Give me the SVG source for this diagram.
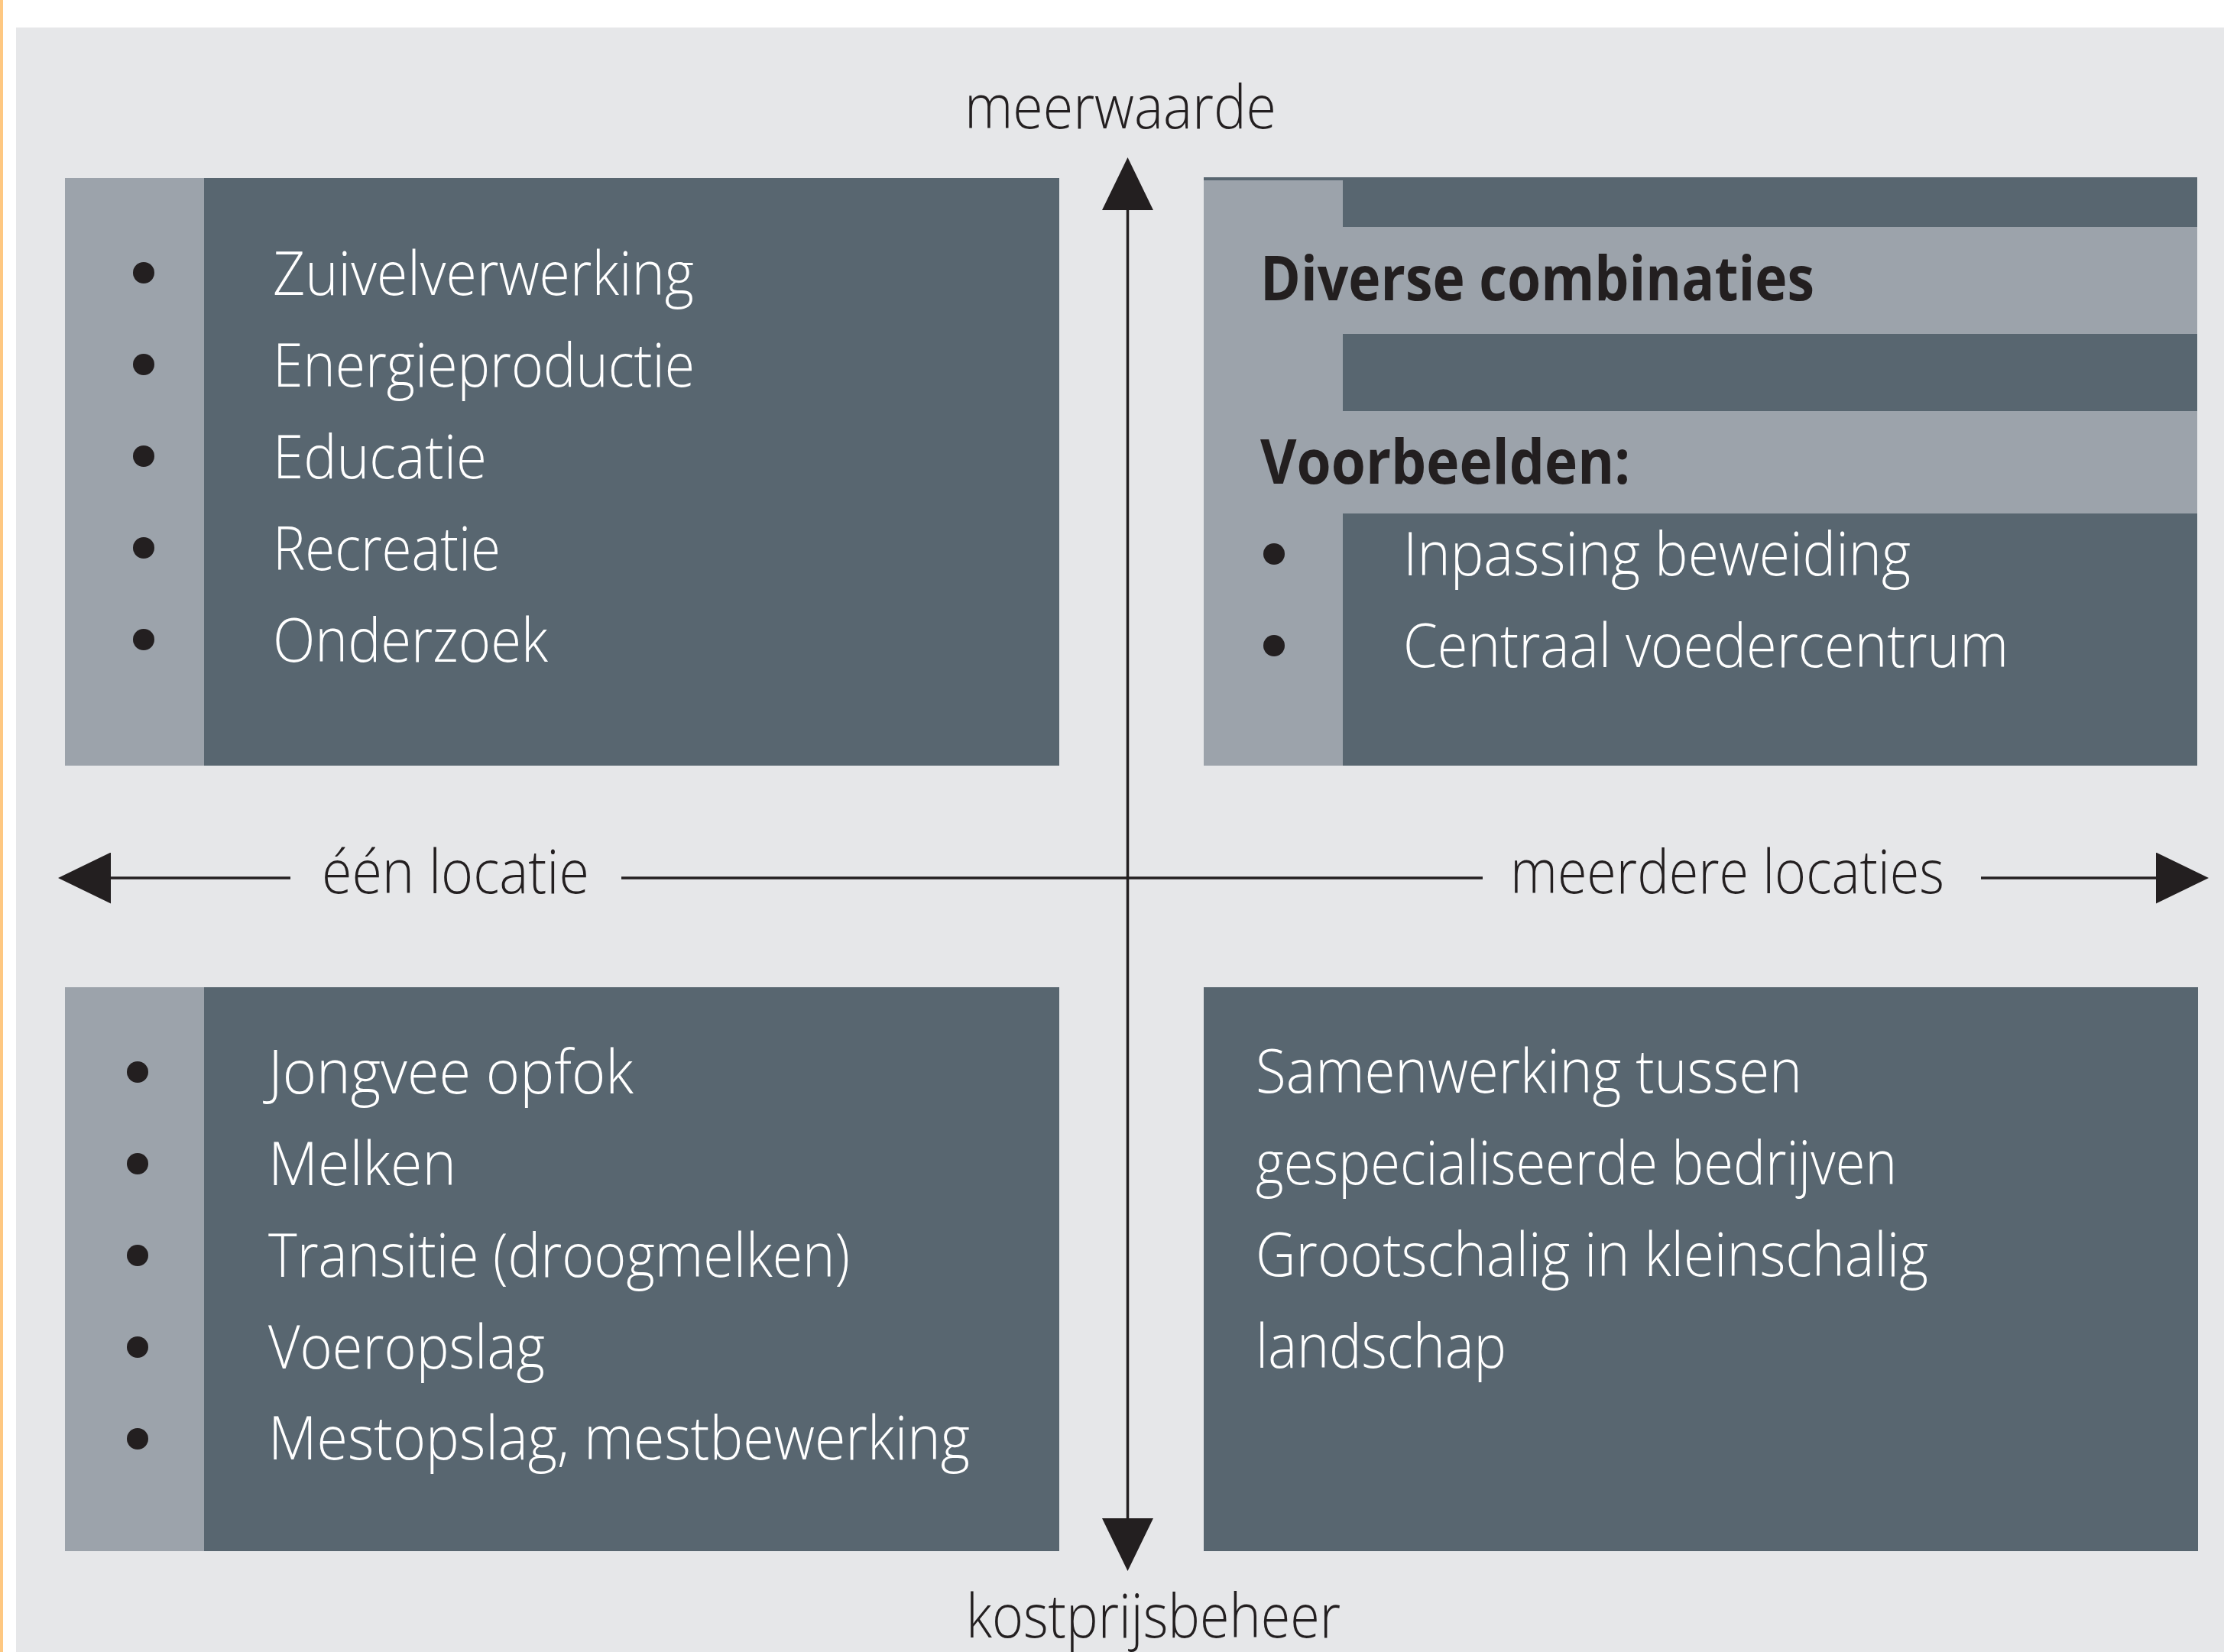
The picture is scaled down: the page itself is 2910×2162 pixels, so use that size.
<svg xmlns="http://www.w3.org/2000/svg" width="2910" height="2162" viewBox="0 0 2910 2162">
<style>
.dark{fill:#586670}
.light{fill:#9CA3AB}
.t{font-family:"Open Sans","Noto Sans","Liberation Sans",sans-serif;font-size:80px;font-weight:300}
.w{fill:#FFFFFF}
.k{fill:#231F20}
.b{font-family:"Open Sans","Noto Sans","Liberation Sans",sans-serif;font-size:80px;font-weight:700;fill:#231F20}
.dot{fill:#231F20}
.axis{stroke:#231F20;stroke-width:3.5;fill:none}
</style>
<defs>
<marker id="ah" markerUnits="userSpaceOnUse" viewBox="0 0 69 67" refX="0" refY="33.5" markerWidth="69" markerHeight="67" orient="auto-start-reverse">
<path d="M0,0 L69,33.5 L0,67 Z" fill="#231F20"/>
</marker>
</defs>
<rect x="0" y="0" width="2910" height="2162" fill="#FFFFFF"/>
<rect x="0" y="0" width="4" height="2162" fill="#FEC882"/>
<rect x="21" y="36" width="2889" height="2126" fill="#E6E7E9"/>

<g id="node-top-left">
<rect class="dark" x="85" y="233" width="1301" height="769"/>
<rect class="light" x="85" y="233" width="182" height="769"/>
<circle class="dot" cx="188" cy="357" r="14"/>
<circle class="dot" cx="188" cy="477" r="14"/>
<circle class="dot" cx="188" cy="597" r="14"/>
<circle class="dot" cx="188" cy="717" r="14"/>
<circle class="dot" cx="188" cy="837" r="14"/>
<text class="t w" x="357" y="386" textLength="551" lengthAdjust="spacingAndGlyphs">Zuivelverwerking</text>
<text class="t w" x="357" y="506" textLength="552" lengthAdjust="spacingAndGlyphs">Energieproductie</text>
<text class="t w" x="357" y="626" textLength="280" lengthAdjust="spacingAndGlyphs">Educatie</text>
<text class="t w" x="357" y="746" textLength="298" lengthAdjust="spacingAndGlyphs">Recreatie</text>
<text class="t w" x="357" y="866" textLength="360" lengthAdjust="spacingAndGlyphs">Onderzoek</text>
</g>

<g id="node-top-right">
<rect class="dark" x="1575" y="232" width="1300" height="770"/>
<rect class="light" x="1575" y="236" width="182" height="766"/>
<rect class="light" x="1575" y="297" width="1300" height="140"/>
<rect class="light" x="1575" y="538" width="1300" height="134"/>
<text class="b" x="1649" y="393" textLength="725" lengthAdjust="spacingAndGlyphs">Diverse combinaties</text>
<text class="b" x="1649" y="633" textLength="484" lengthAdjust="spacingAndGlyphs">Voorbeelden:</text>
<circle class="dot" cx="1667" cy="725" r="14"/>
<circle class="dot" cx="1667" cy="845" r="14"/>
<text class="t w" x="1836" y="753" textLength="664" lengthAdjust="spacingAndGlyphs">Inpassing beweiding</text>
<text class="t w" x="1836" y="873" textLength="792" lengthAdjust="spacingAndGlyphs">Centraal voedercentrum</text>
</g>

<g id="node-bottom-left">
<rect class="dark" x="85" y="1292" width="1301" height="738"/>
<rect class="light" x="85" y="1292" width="182" height="738"/>
<circle class="dot" cx="180" cy="1403" r="14"/>
<circle class="dot" cx="180" cy="1523" r="14"/>
<circle class="dot" cx="180" cy="1643" r="14"/>
<circle class="dot" cx="180" cy="1763" r="14"/>
<circle class="dot" cx="180" cy="1883" r="14"/>
<text class="t w" x="351" y="1431" textLength="478" lengthAdjust="spacingAndGlyphs">Jongvee opfok</text>
<text class="t w" x="351" y="1551" textLength="246" lengthAdjust="spacingAndGlyphs">Melken</text>
<text class="t w" x="351" y="1671" textLength="761" lengthAdjust="spacingAndGlyphs">Transitie (droogmelken)</text>
<text class="t w" x="351" y="1791" textLength="362" lengthAdjust="spacingAndGlyphs">Voeropslag</text>
<text class="t w" x="351" y="1910" textLength="918" lengthAdjust="spacingAndGlyphs">Mestopslag, mestbewerking</text>
</g>

<g id="node-bottom-right">
<rect class="dark" x="1575" y="1292" width="1301" height="738"/>
<text class="t w" x="1643" y="1430" textLength="715" lengthAdjust="spacingAndGlyphs">Samenwerking tussen</text>
<text class="t w" x="1643" y="1550" textLength="839" lengthAdjust="spacingAndGlyphs">gespecialiseerde bedrijven</text>
<text class="t w" x="1643" y="1670" textLength="880" lengthAdjust="spacingAndGlyphs">Grootschalig in kleinschalig</text>
<text class="t w" x="1643" y="1790" textLength="328" lengthAdjust="spacingAndGlyphs">landschap</text>
</g>

<g id="connectors">
<line class="axis" x1="1475.5" y1="275" x2="1475.5" y2="1987" marker-start="url(#ah)" marker-end="url(#ah)"/>
<line class="axis" x1="380" y1="1149" x2="145" y2="1149" marker-end="url(#ah)"/>
<line class="axis" x1="813" y1="1149" x2="1940" y2="1149"/>
<line class="axis" x1="2592" y1="1149" x2="2821" y2="1149" marker-end="url(#ah)"/>
</g>

<g id="axis-labels">
<text class="t k" x="1262" y="168" textLength="408" lengthAdjust="spacingAndGlyphs">meerwaarde</text>
<text class="t k" x="1264" y="2143" textLength="490" lengthAdjust="spacingAndGlyphs">kostprijsbeheer</text>
<text class="t k" x="421" y="1169" textLength="350" lengthAdjust="spacingAndGlyphs">één locatie</text>
<text class="t k" x="1976" y="1169" textLength="568" lengthAdjust="spacingAndGlyphs">meerdere locaties</text>
</g>
</svg>
